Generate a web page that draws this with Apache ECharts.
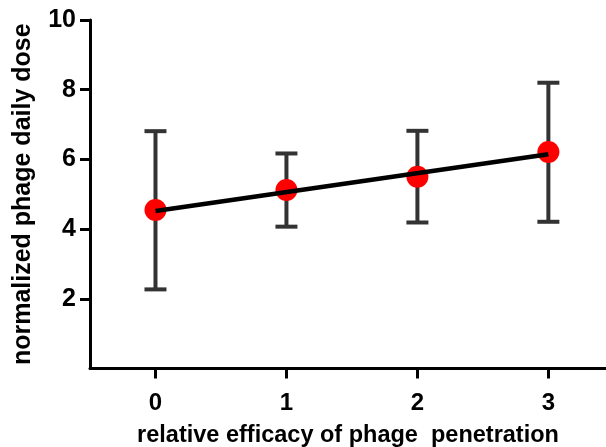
<!DOCTYPE html>
<html lang="en">
<head>
    <meta charset="UTF-8">
    <title>phage dose</title>
    <style>
        html, body { margin: 0; padding: 0; background: #fff; }
    </style>
</head>
<body>
<div id="myChart" style="width: 606px;height: 447px;"></div>
<script src="https://cdn.jsdelivr.net/npm/echarts@6/dist/echarts.min.js"></script>
<script>
    var myChart = echarts.init(document.querySelector("#myChart"));

    // data
    let efficacy = [0, 1, 2, 3];
    let meanDose = [4.55, 5.12, 5.50, 6.21];
    let lowDose = [2.27, 4.07, 4.19, 4.21];
    let highDose = [6.81, 6.17, 6.82, 8.20];
    // fitted line end points
    let fitLine = [[0, 4.52], [3, 6.15]];
    let yTicks = [2, 4, 6, 8, 10];

    let font = "'Liberation Sans', Arial, sans-serif";

    let errData = efficacy.map(function (x, i) { return [x, lowDose[i], highDose[i]]; });
    let pointData = efficacy.map(function (x, i) { return [x, meanDose[i]]; });

    option = {
        animation: false,
        grid: { left: 90, right: 0, top: 20, bottom: 78.5, outerBoundsMode: 'none' },
        xAxis: {
            type: 'value',
            min: -0.5,
            max: 3.44,
            name: 'relative efficacy of phage  penetration',
            nameLocation: 'middle',
            nameGap: 55,
            nameTextStyle: { fontFamily: font, fontWeight: 'bold', fontSize: 23.5, color: '#000' },
            splitLine: { show: false },
            axisLine: { lineStyle: { color: '#000', width: 3 } },
            axisTick: { length: 10, lineStyle: { color: '#000', width: 3 }, customValues: efficacy },
            axisLabel: { margin: 23, fontFamily: font, fontWeight: 'bold', fontSize: 24, color: '#000', customValues: efficacy }
        },
        yAxis: {
            type: 'value',
            min: 0,
            max: 10,
            interval: 2,
            name: 'normalized phage daily dose',
            nameLocation: 'middle',
            nameGap: 54,
            nameTextStyle: { fontFamily: font, fontWeight: 'bold', fontSize: 25, color: '#000' },
            splitLine: { show: false },
            axisLine: { show: true, onZero: false, lineStyle: { color: '#000', width: 3 } },
            axisTick: { show: true, length: 10, lineStyle: { color: '#000', width: 3 }, customValues: yTicks },
            axisLabel: { margin: 14, fontFamily: font, fontWeight: 'bold', fontSize: 25, color: '#000', customValues: yTicks }
        },
        series: [
            {
                type: 'custom',
                z: 2,
                data: errData,
                renderItem: function (params, api) {
                    let x = api.value(0);
                    let lo = api.coord([x, api.value(1)]);
                    let hi = api.coord([x, api.value(2)]);
                    let hw = 11;
                    let style = { stroke: '#333', lineWidth: 4 };
                    return {
                        type: 'group',
                        children: [
                            { type: 'line', shape: { x1: lo[0], y1: lo[1], x2: hi[0], y2: hi[1] }, style: style },
                            { type: 'line', shape: { x1: lo[0] - hw, y1: lo[1], x2: lo[0] + hw, y2: lo[1] }, style: style },
                            { type: 'line', shape: { x1: hi[0] - hw, y1: hi[1], x2: hi[0] + hw, y2: hi[1] }, style: style }
                        ]
                    };
                }
            },
            {
                type: 'scatter',
                z: 3,
                symbolSize: 22,
                itemStyle: { color: '#ff0000', opacity: 1 },
                data: pointData
            },
            {
                type: 'line',
                z: 4,
                symbol: 'none',
                lineStyle: { color: '#000', width: 4.5 },
                data: fitLine
            }
        ]
    };
    myChart.setOption(option);
</script>
</body>
</html>
